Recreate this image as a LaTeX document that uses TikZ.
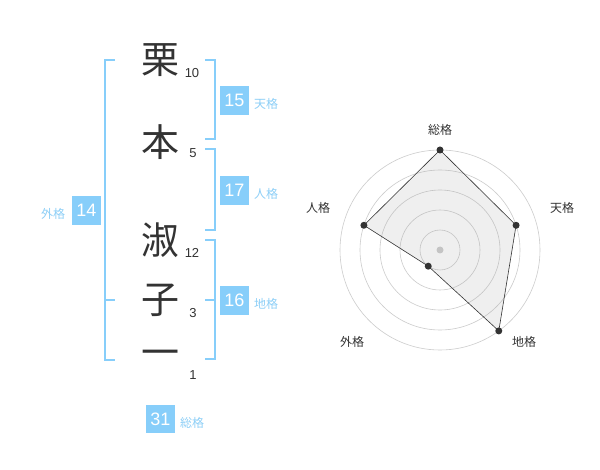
\documentclass[tikz,border=0pt]{standalone}
\usepackage{fontspec}
\usetikzlibrary{calc}
\setmainfont{Liberation Sans}
\newfontfamily\cjk{Noto Sans CJK JP}
\definecolor{sky}{HTML}{87CEFA}
\definecolor{skytext}{HTML}{8DCFF7}
\definecolor{ink}{HTML}{333333}
\definecolor{ring}{HTML}{CCCCCC}
\begin{document}
\begin{tikzpicture}[x=1pt,y=-1pt,
  kanji/.style={font=\cjk\fontsize{38}{38}\selectfont, text=ink, inner sep=0pt},
  stroke/.style={font=\fontsize{13}{13}\selectfont, text=ink, inner sep=0pt},
  numbox/.style={fill=sky, text=white, minimum width=28.7pt, minimum height=28.7pt, inner sep=0pt, font=\fontsize{18}{18}\selectfont},
  kaku/.style={font=\cjk\fontsize{12}{12}\selectfont, text=skytext, inner sep=0pt},
  brk/.style={draw=sky, line width=1.6pt},
  axlabel/.style={font=\cjk\fontsize{12}{12}\selectfont, text=ink, inner sep=0pt},
  dot/.style={circle, fill=ink, inner sep=0pt, minimum size=7pt},
]
\useasboundingbox (0,0) rectangle (600,470);
\fill[white] (0,0) rectangle (600,470);

% name characters
\node[kanji] (k1) at (160,60) {栗};
\node[kanji] (k2) at (160,142) {本};
\node[kanji] (k3) at (160,240) {淑};
\node[kanji] (k4) at (160,300) {子};
\node[kanji] (k5) at (160,358) {一};
\node[stroke] (s1) at (192,73) {10};
\node[stroke] (s2) at (193,153) {5};
\node[stroke] (s3) at (192,253) {12};
\node[stroke] (s4) at (193,313) {3};
\node[stroke] (s5) at (193,375) {1};

% brackets
\draw[brk] (115,60) -- (105,60) -- (105,360) -- (115,360);
\draw[brk] (105,300) -- (115,300);
\draw[brk] (205,60) -- (215,60) -- (215,139) -- (205,139);
\draw[brk] (205,149) -- (215,149) -- (215,230) -- (205,230);
\draw[brk] (205,240) -- (215,240) -- (215,359) -- (205,359);
\draw[brk] (205,300) -- (215,300);

% boxes
\node[numbox] (b15) at (234.3,100.3) {15};
\node[kaku, anchor=west] (l15) at (254,104) {天格};
\node[numbox] (b17) at (234.3,190.3) {17};
\node[kaku, anchor=west] (l17) at (254,194) {人格};
\node[numbox] (b16) at (234.3,300.3) {16};
\node[kaku, anchor=west] (l16) at (254,304) {地格};
\node[numbox] (b14) at (86.3,210.3) {14};
\node[kaku, anchor=east] (l14) at (65.3,214) {外格};
\node[numbox] (b31) at (160.3,419) {31};
\node[kaku, anchor=west] (l31) at (180,423) {総格};

% radar
\coordinate (c) at (440,250);
\foreach \r in {20,40,60,80,100} \draw[ring, line width=0.6pt] (c) circle[radius=\r];
\fill[ring] (c) circle[radius=3.5];
\coordinate (p1) at ($(c)+(-90:100)$);
\coordinate (p2) at ($(c)+(-18:80)$);
\coordinate (p3) at ($(c)+(54:100)$);
\coordinate (p4) at ($(c)+(126:20)$);
\coordinate (p5) at ($(c)+(198:80)$);
\fill[black!40, fill opacity=0.15] (p1) -- (p2) -- (p3) -- (p4) -- (p5) -- cycle;
\draw[ink, line width=0.6pt] (p1) -- (p2) -- (p3) -- (p4) -- (p5) -- cycle;
\foreach \p in {p1,p2,p3,p4,p5} \node[dot] at (\p) {};
\node[axlabel] (a1) at (440,130) {総格};
\node[axlabel] (a2) at (562,208) {天格};
\node[axlabel] (a3) at (524,342) {地格};
\node[axlabel] (a4) at (352,342) {外格};
\node[axlabel] (a5) at (318,208) {人格};
\end{tikzpicture}
\end{document}
